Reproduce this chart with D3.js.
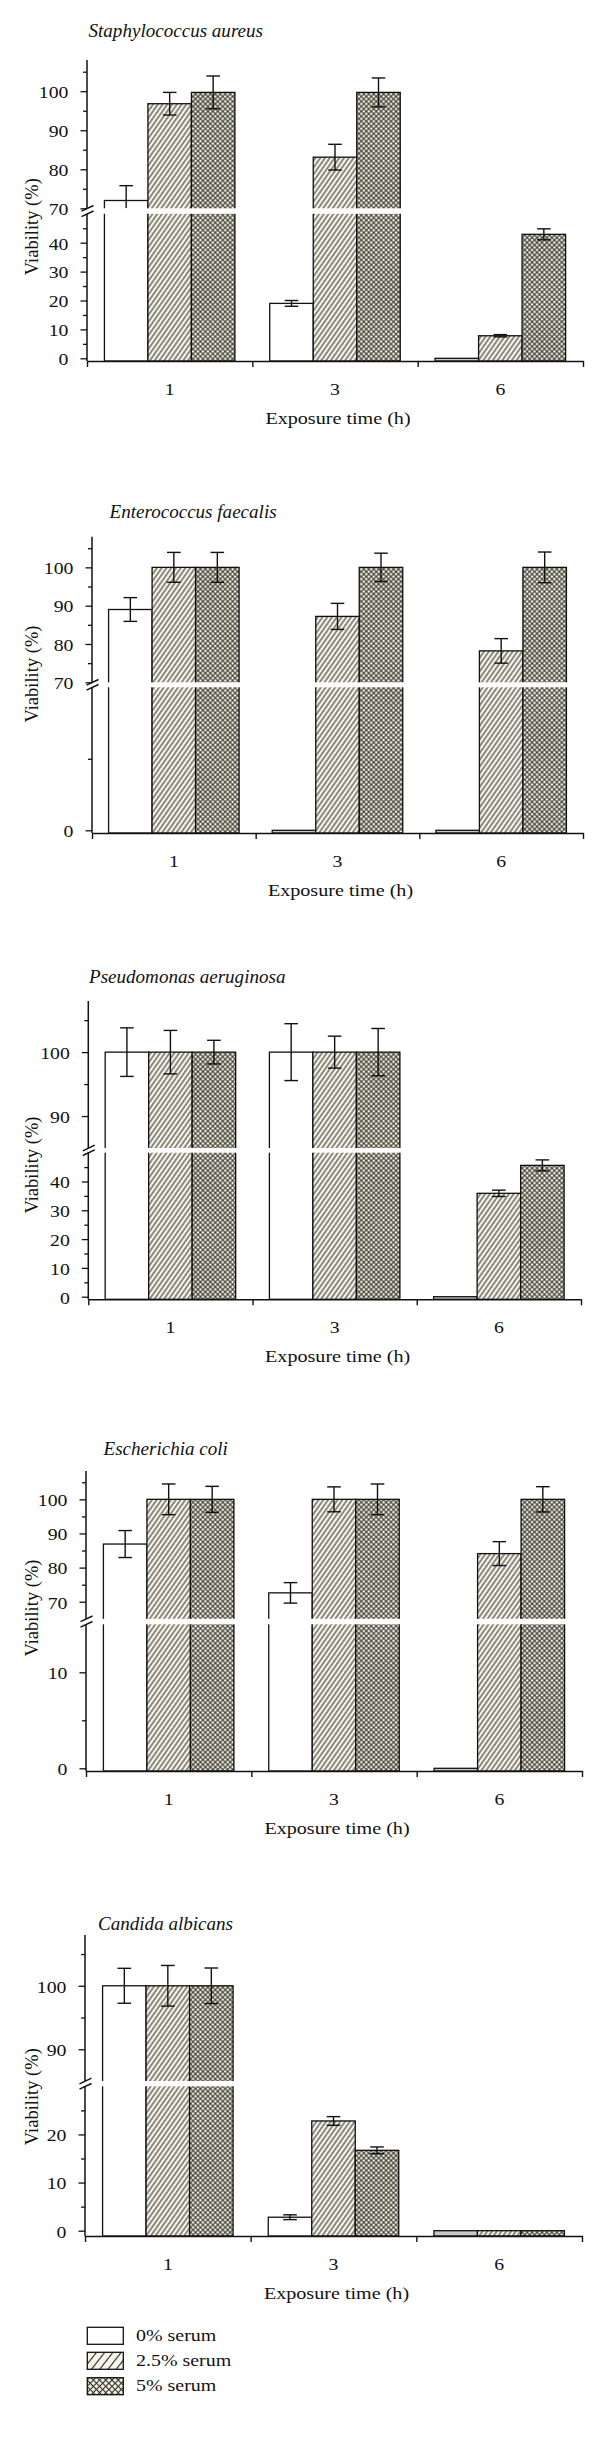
<!DOCTYPE html>
<html><head><meta charset="utf-8">
<script src="https://cdn.jsdelivr.net/npm/d3@7"></script>
<style>body{margin:0;background:#fff}</style>
</head><body><svg id="c" width="600" height="2449"></svg>
<script>
// ---------------- DATA ----------------
const categories = ["1", "3", "6"];
const seriesNames = ["0% serum", "2.5% serum", "5% serum"];
const organisms = ["Staphylococcus aureus", "Enterococcus faecalis", "Pseudomonas aeruginosa", "Escherichia coli", "Candida albicans"];

// values[series][category]
const staphValues = [[72, 19, 0], [96.8, 83.1, 7.8], [99.7, 99.7, 42.9]];
const staphErrors = [[3.8, 1.0, 0], [2.9, 3.3, 0.4], [4.2, 3.7, 1.9]];
const enteroValues = [[89, 0, 0], [100, 87.2, 78.2], [100, 100, 100]];
const enteroErrors = [[3.1, 0, 0], [3.9, 3.4, 3.2], [3.9, 3.7, 4.0]];
const pseudoValues = [[100, 100, 0], [100, 100, 35.9], [100, 100, 45.6]];
const pseudoErrors = [[3.8, 4.45, 0], [3.4, 2.5, 1.1], [1.85, 3.7, 1.9]];
const coliValues = [[86.9, 72.6, 0], [100, 100, 84.1], [100, 100, 100]];
const coliErrors = [[3.95, 3.0, 0], [4.5, 3.65, 3.5], [3.8, 4.5, 3.7]];
const candidaValues = [[100, 2.8, 0], [100, 22.8, 0], [100, 16.7, 0]];
const candidaErrors = [[2.75, 0.5, 0], [3.2, 0.9, 0], [2.8, 0.7, 0]];

const upperDomains = [[70, 108], [70, 108], [85, 108], [65, 108.3], [85, 108]];
const lowerDomains = [[0, 50], [0, 10], [0, 50], [0, 15], [0, 30]];
const upperMajorTicks = [[70, 80, 90, 100], [70, 80, 90, 100], [90, 100], [70, 80, 90, 100], [90, 100]];
const upperMinorTicks = [[75, 85, 95, 105], [75, 85, 95, 105], [95, 105], [75, 85, 95, 105], [95, 105]];
const lowerMajorTicks = [[0, 10, 20, 30, 40], [0], [0, 10, 20, 30, 40], [0, 10], [0, 10, 20]];
const lowerMinorTicks = [[5, 15, 25, 35, 45], [5], [5, 15, 25, 35, 45], [5], [5, 15, 25]];

const xAxisTitle = "Exposure time (h)";
const yAxisTitle = "Viability (%)";

const panelValues = [staphValues, enteroValues, pseudoValues, coliValues, candidaValues];
const panelErrors = [staphErrors, enteroErrors, pseudoErrors, coliErrors, candidaErrors];

// ---------------- LAYOUT ----------------
const layout = [
  {top: 60, bandTop: 208.3, bandBot: 213.8, zero: 358.3, axisY: 361, axisX: 87, right: 583, titleX: 88.5, titleY: 36.7, ylabY: 226.7},
  {top: 536.7, bandTop: 682.3, bandBot: 687.3, zero: 830.3, axisY: 833, axisX: 92, right: 583, titleX: 109.5, titleY: 518, ylabY: 674},
  {top: 1001, bandTop: 1148, bandBot: 1152.7, zero: 1296.7, axisY: 1299.3, axisX: 88.3, right: 581, titleX: 89, titleY: 983.3, ylabY: 1165},
  {top: 1471, bandTop: 1618.8, bandBot: 1624.3, zero: 1768.3, axisY: 1771, axisX: 86, right: 582, titleX: 103.5, titleY: 1455, ylabY: 1608},
  {top: 1935, bandTop: 2081, bandBot: 2086.3, zero: 2230.7, axisY: 2236, axisX: 85, right: 582, titleX: 98, titleY: 1930, ylabY: 2096.7}
];
const FONT = "'Liberation Serif','Times New Roman',Times,serif";
const INK = "#111";
const SX = 1.13;

const svg = d3.select("#c");
svg.append("rect").attr("width", 600).attr("height", 2449).attr("fill", "#fff");

// ---------------- PATTERNS ----------------
const defs = svg.append("defs");
function singleHatch(id, w, angle, bg, sw) {
  const p = defs.append("pattern").attr("id", id).attr("patternUnits", "userSpaceOnUse")
    .attr("width", w).attr("height", 20).attr("patternTransform", `rotate(${angle})`);
  p.append("rect").attr("width", w).attr("height", 20).attr("fill", bg);
  p.append("line").attr("x1", w / 2).attr("x2", w / 2).attr("y1", 0).attr("y2", 20)
    .attr("stroke", "#222").attr("stroke-width", sw);
}
function crossHatch(id, w, bg, sw) {
  const p = defs.append("pattern").attr("id", id).attr("patternUnits", "userSpaceOnUse")
    .attr("width", w).attr("height", w).attr("patternTransform", "rotate(45)");
  p.append("rect").attr("width", w).attr("height", w).attr("fill", bg);
  p.append("line").attr("x1", w / 2).attr("x2", w / 2).attr("y1", 0).attr("y2", w)
    .attr("stroke", "#262622").attr("stroke-width", sw);
  p.append("line").attr("y1", w / 2).attr("y2", w / 2).attr("x1", 0).attr("x2", w)
    .attr("stroke", "#262622").attr("stroke-width", sw);
}
singleHatch("hatch", 3.9, 35, "#f7f5e8", 1.0);
crossHatch("cross", 3.5, "#f0eedd", 0.95);
singleHatch("hatchL", 6.5, 38, "#f7f5e8", 1.1);
crossHatch("crossL", 4.4, "#f0eedd", 1.0);
const fills = ["#ffffff", "url(#hatch)", "url(#cross)"];
const legendFills = ["#ffffff", "url(#hatchL)", "url(#crossL)"];

// ---------------- PANELS ----------------
organisms.forEach((name, i) => {
  const L = layout[i];
  const g = svg.append("g");
  const up = upperDomains[i], lo = lowerDomains[i];
  const x = d3.scaleBand().domain(categories).range([L.axisX, L.right]);
  const innerW = 130.5;
  const xs = d3.scaleBand().domain(seriesNames)
    .range([(x.bandwidth() - innerW) / 2, (x.bandwidth() + innerW) / 2]);
  const yU = d3.scaleLinear().domain(up).range([L.bandTop, L.top]);
  const yL = d3.scaleLinear().domain(lo).range([L.zero, L.bandBot]);
  const inUpper = v => v >= up[0];
  const yOf = v => inUpper(v) ? yU(v) : yL(v);

  const recs = [];
  seriesNames.forEach((s, si) => categories.forEach((c, ci) => {
    recs.push({s, si, c, v: panelValues[i][si][ci], e: panelErrors[i][si][ci]});
  }));

  // y axis line
  g.append("line").attr("x1", L.axisX).attr("x2", L.axisX).attr("y1", L.top).attr("y2", L.axisY)
    .attr("stroke", INK).attr("stroke-width", 1.5);

  // bars
  g.selectAll("rect.bar").data(recs).join("rect").attr("class", "bar")
    .attr("x", d => x(d.c) + xs(d.s))
    .attr("y", d => yOf(d.v))
    .attr("width", xs.bandwidth())
    .attr("height", d => L.axisY - yOf(d.v))
    .attr("fill", d => (d.v === 0 && d.si === 0) ? "#c8c8c8" : fills[d.si])
    .attr("stroke", INK).attr("stroke-width", 1.3);

  // error bars
  const capW = 6.8;
  recs.filter(d => d.e > 0).forEach(d => {
    const cx = x(d.c) + xs(d.s) + xs.bandwidth() / 2;
    const upperSeg = inUpper(d.v);
    const sc = upperSeg ? yU : yL;
    const dom = upperSeg ? up : lo;
    const hiV = Math.min(d.v + d.e, dom[1]);
    const loV = Math.max(d.v - d.e, dom[0]);
    const eg = g.append("g").attr("stroke", INK).attr("stroke-width", 1.4);
    eg.append("line").attr("x1", cx).attr("x2", cx).attr("y1", sc(loV)).attr("y2", sc(hiV));
    if (d.v + d.e <= dom[1]) eg.append("line").attr("x1", cx - capW).attr("x2", cx + capW).attr("y1", sc(hiV)).attr("y2", sc(hiV));
    if (d.v - d.e >= dom[0]) eg.append("line").attr("x1", cx - capW).attr("x2", cx + capW).attr("y1", sc(loV)).attr("y2", sc(loV));
  });

  // axis break band
  g.append("rect").attr("x", L.axisX - 1).attr("y", L.bandTop).attr("width", L.right - L.axisX + 1)
    .attr("height", L.bandBot - L.bandTop).attr("fill", "#fff");
  [L.bandTop, L.bandBot].forEach(yy => {
    g.append("line").attr("x1", L.axisX - 5.5).attr("y1", yy + 2.8).attr("x2", L.axisX + 6.5).attr("y2", yy - 2.8)
      .attr("stroke", INK).attr("stroke-width", 1.4);
  });

  // y ticks
  function styleAxis(a) {
    a.select(".domain").remove();
    a.attr("font-family", FONT).attr("font-size", 17.5);
    a.selectAll(".tick line").attr("stroke", INK).attr("stroke-width", 1.3);
    a.selectAll(".tick text").attr("x", 0).attr("dy", "0.36em").attr("fill", INK)
      .attr("transform", `translate(-18.5,0) scale(${SX},1)`);
  }
  g.append("g").attr("transform", `translate(${L.axisX},0)`)
    .call(d3.axisLeft(yU).tickValues(upperMajorTicks[i]).tickSize(6.5).tickFormat(d3.format("d"))).call(styleAxis);
  g.append("g").attr("transform", `translate(${L.axisX},0)`)
    .call(d3.axisLeft(yU).tickValues(upperMinorTicks[i]).tickSize(4).tickFormat(() => "")).call(styleAxis);
  g.append("g").attr("transform", `translate(${L.axisX},0)`)
    .call(d3.axisLeft(yL).tickValues(lowerMajorTicks[i]).tickSize(6.5).tickFormat(d3.format("d"))).call(styleAxis);
  g.append("g").attr("transform", `translate(${L.axisX},0)`)
    .call(d3.axisLeft(yL).tickValues(lowerMinorTicks[i]).tickSize(4).tickFormat(() => "")).call(styleAxis);

  // x axis: line + boundary ticks
  const xb = d3.scaleLinear().domain([0, categories.length]).range([L.axisX, L.right]);
  g.append("g").attr("transform", `translate(0,${L.axisY})`)
    .call(d3.axisBottom(xb).tickValues(d3.range(categories.length + 1)).tickSize(6).tickSizeOuter(0).tickFormat(() => ""))
    .call(a => {
      a.select(".domain").attr("stroke", INK).attr("stroke-width", 1.6);
      a.selectAll(".tick line").attr("stroke", INK).attr("stroke-width", 1.4);
    });
  // x labels
  g.append("g").attr("transform", `translate(0,${L.axisY})`)
    .call(d3.axisBottom(x).tickSize(0))
    .call(a => {
      a.select(".domain").remove();
      a.attr("font-family", FONT).attr("font-size", 17.5);
      a.selectAll(".tick text").attr("y", 0).attr("dy", 0).attr("fill", INK)
        .attr("transform", `translate(0,34) scale(${SX},1)`);
    });

  // axis titles
  g.append("text").attr("transform", `translate(${(L.axisX + L.right) / 2 + 3},${L.axisY + 63}) scale(1.15,1)`)
    .attr("text-anchor", "middle").attr("font-family", FONT).attr("font-size", 17.5).attr("fill", INK)
    .text(xAxisTitle);
  g.append("text").attr("transform", `translate(32,${L.ylabY}) rotate(-90)`)
    .attr("text-anchor", "middle").attr("dy", "0.35em").attr("font-family", FONT).attr("font-size", 18.5)
    .attr("fill", INK).text(yAxisTitle);

  // panel title
  g.append("text").attr("transform", `translate(${L.titleX},${L.titleY}) scale(1.06,1)`)
    .attr("font-family", FONT).attr("font-style", "italic").attr("font-size", 18).attr("fill", INK).text(name);
});

// ---------------- LEGEND ----------------
const legendRows = [2327.3, 2352.3, 2377.7];
const lg = svg.append("g");
seriesNames.forEach((s, si) => {
  lg.append("rect").attr("x", 87.3).attr("y", legendRows[si]).attr("width", 36).attr("height", 17)
    .attr("fill", legendFills[si]).attr("stroke", INK).attr("stroke-width", 1.3);
  lg.append("text").attr("transform", `translate(136,${legendRows[si] + 13.5}) scale(1.14,1)`)
    .attr("font-family", FONT).attr("font-size", 17.5).attr("fill", INK).text(s);
});
</script></body></html>
